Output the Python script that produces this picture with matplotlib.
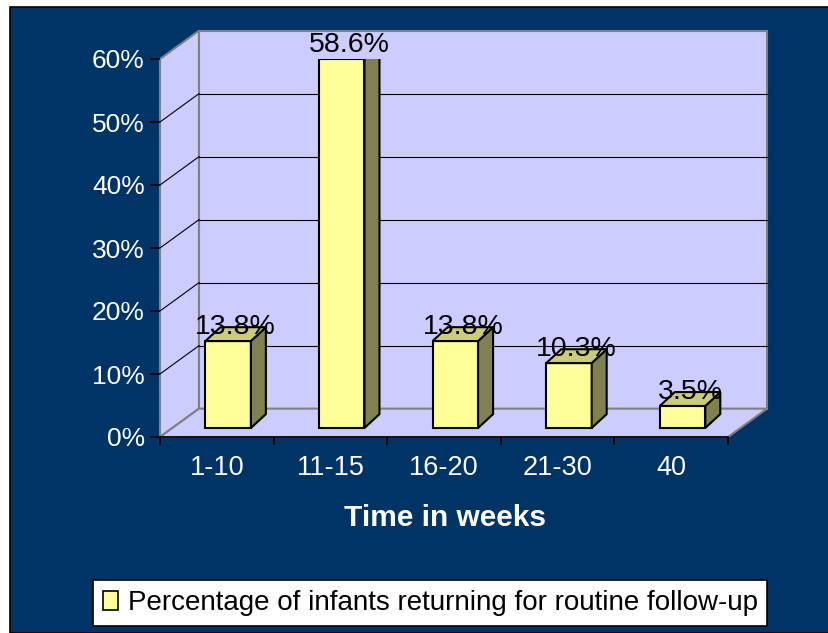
import matplotlib
matplotlib.use("Agg")
import matplotlib.pyplot as plt
from matplotlib.patches import Polygon, Rectangle, Patch

plt.rcParams['font.family'] = ['Liberation Sans', 'DejaVu Sans']

categories = ["1-10", "11-15", "16-20", "21-30", "40"]
percent = [13.8, 58.6, 13.8, 10.3, 3.5]
labels = ["13.8%", "58.6%", "13.8%", "10.3%", "3.5%"]
y_ticks = [0, 10, 20, 30, 40, 50, 60]

W, H = 829, 633
NAVY = "#003366"
WALL = "#CCCCFF"
GRAY = "#808080"

fig = plt.figure(figsize=(W / 100, H / 100), dpi=100, facecolor="white")
fig.patches.append(Rectangle((10 / W, 0), 1 - 10 / W, 1 - 7 / H, transform=fig.transFigure,
                             facecolor=NAVY, edgecolor="black", lw=1.2, zorder=-5))

# front plane of the 3d box in pixels
x0, x1, y0, y1 = 160, 728, 437, 59
ax = fig.add_axes([x0 / W, 1 - y0 / H, (x1 - x0) / W, (y0 - y1) / H])
ax.set_facecolor("none")
ax.set_xlim(-0.5, 4.5)
ax.set_ylim(0, 60)

# depth offsets in data units
DX, DY = 0.343, 4.5
left, right, top = -0.5, 4.5, 60

walls = [
    [(left + DX, DY), (right + DX, DY), (right + DX, top + DY), (left + DX, top + DY)],
    [(left, 0), (left + DX, DY), (left + DX, top + DY), (left, top)],
    [(left, 0), (right, 0), (right + DX, DY), (left + DX, DY)],
]
for pts in walls:
    ax.add_patch(Polygon(pts, closed=True, facecolor=WALL, edgecolor=GRAY, lw=1.5,
                         clip_on=False, zorder=0))

for v in y_ticks[1:-1]:
    ax.plot([left + DX, right + DX], [v + DY, v + DY], color="black", lw=0.8, zorder=1, clip_on=False)
    ax.plot([left, left + DX], [v, v + DY], color="black", lw=0.8, zorder=1, clip_on=False)

# bars
BASE = 1.43
BW = 0.4
BDX, BDY = 0.132, 2.2
xs = [i - 0.1 for i in range(len(categories))]
ax.bar(xs, percent, width=BW, bottom=BASE, align="edge", color="#FFFF99",
       edgecolor="black", lw=1.5, zorder=3)
for xl, v, lab in zip(xs, percent, labels):
    ytop = BASE + v
    side = [(xl + BW, BASE), (xl + BW + BDX, BASE + BDY), (xl + BW + BDX, ytop + BDY), (xl + BW, ytop)]
    cap = [(xl, ytop), (xl + BW, ytop), (xl + BW + BDX, ytop + BDY), (xl + BDX, ytop + BDY)]
    ax.add_patch(Polygon(side, closed=True, facecolor="#808050", edgecolor="black", lw=1.5, zorder=3))
    ax.add_patch(Polygon(cap, closed=True, facecolor="#CCCC77", edgecolor="black", lw=1.5, zorder=3))
    ax.text(xl + (BW + BDX) / 2, ytop + BDY, lab, ha="center", va="center",
            fontsize=20.5, color="black", zorder=5, clip_on=False)

for s in ["top", "right", "left"]:
    ax.spines[s].set_visible(False)
ax.spines["bottom"].set_color("black")
ax.spines["bottom"].set_linewidth(1.2)

ax.set_yticks(y_ticks)
ax.set_yticklabels([f"{v}%" for v in y_ticks])
ax.tick_params(axis="y", colors="black", labelcolor="white", labelsize=19, length=7, width=1.2, pad=4)
ax.set_xticks(range(len(categories)))
ax.set_xticklabels(categories)
ax.tick_params(axis="x", which="major", length=0, labelcolor="white", labelsize=19.5, pad=13)
ax.set_xticks([i - 0.5 for i in range(len(categories) + 1)], minor=True)
ax.tick_params(axis="x", which="minor", length=6, width=1.2, color="black")

fig.text(445 / W, 1 - 518 / H, "Time in weeks", ha="center", va="center",
         fontsize=21.5, fontweight="bold", color="white")

handle = Patch(facecolor="#FFFF99", edgecolor="black", lw=1.2)
leg = fig.legend([handle], ["Percentage of infants returning for routine follow-up"],
                 loc="center", bbox_to_anchor=(430 / W, 1 - 603 / H), fontsize=20,
                 frameon=True, fancybox=False, framealpha=1, handlelength=0.55, handleheight=0.7,
                 handletextpad=0.35, borderpad=0.35, borderaxespad=0)
leg.get_frame().set_edgecolor("black")
leg.get_frame().set_linewidth(1.2)
leg.get_frame().set_facecolor("white")

fig.savefig("out.png", dpi=100, facecolor=fig.get_facecolor())
